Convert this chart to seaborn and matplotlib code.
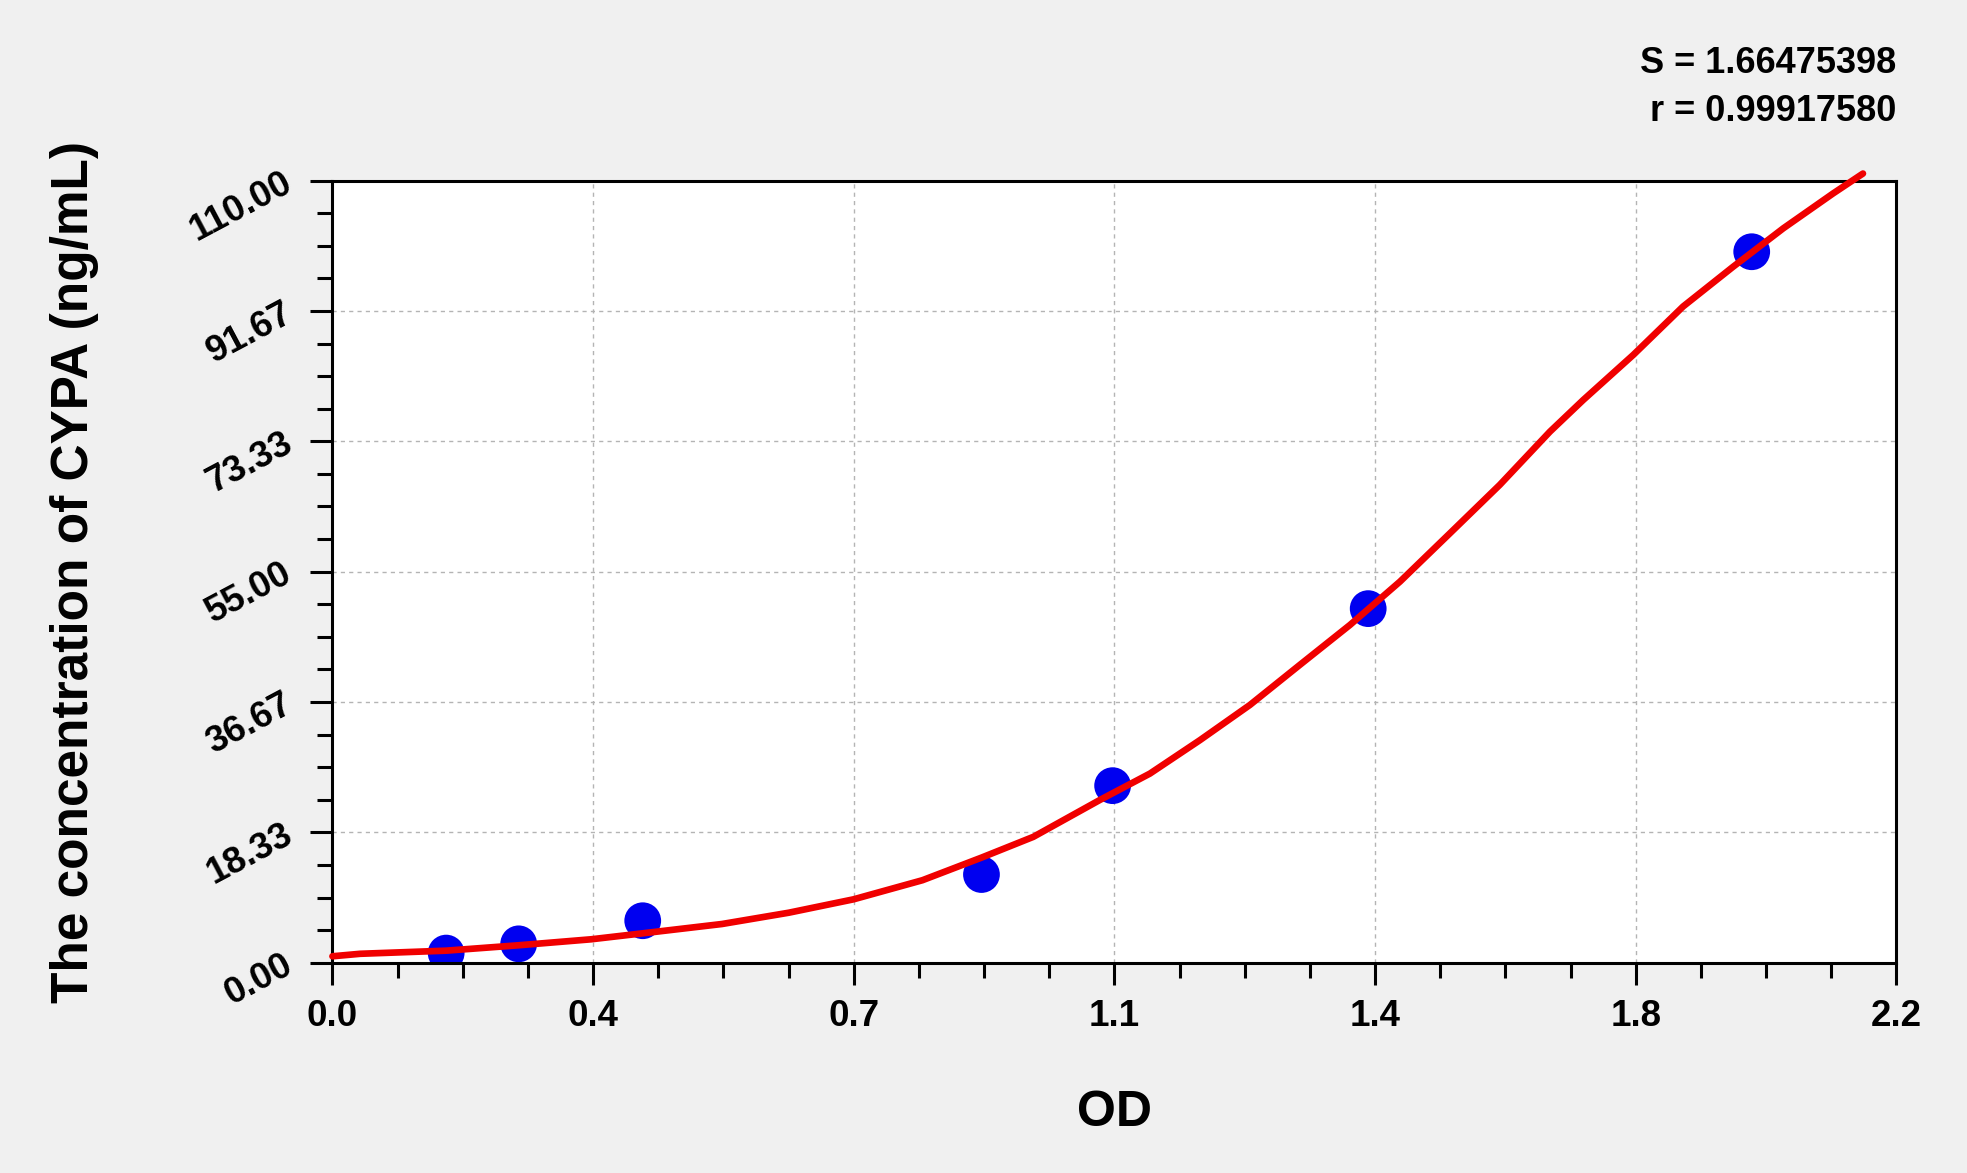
import matplotlib
matplotlib.use("Agg")
import matplotlib.pyplot as plt
from matplotlib.ticker import AutoMinorLocator
import seaborn as sns

# standard points (OD vs concentration)
std_od = [0.160, 0.262, 0.4365, 0.913, 1.0975, 1.457, 1.9965]
std_conc = [1.35, 2.65, 5.9, 12.4, 24.9, 49.8, 100.0]

# fitted curve
curve_od = [0.0, 0.039, 0.160, 0.262, 0.364, 0.4365, 0.548, 0.642, 0.733, 0.830,
            0.9136, 0.986, 1.0798, 1.150, 1.2203, 1.2906, 1.361, 1.4313, 1.5017,
            1.572, 1.642, 1.7127, 1.7595, 1.830, 1.900, 1.9705, 2.041, 2.111, 2.153]
curve_conc = [0.9, 1.25, 1.69, 2.45, 3.29, 4.13, 5.44, 7.03, 8.91, 11.6,
              14.8, 17.7, 22.9, 26.6, 31.3, 36.25, 41.9, 47.5, 53.6,
              60.4, 67.2, 74.7, 79.15, 85.5, 92.3, 97.9, 103.3, 108.2, 111.0]

x_tick_labels = ["0.0", "0.4", "0.7", "1.1", "1.4", "1.8", "2.2"]
y_tick_labels = ["0.00", "18.33", "36.67", "55.00", "73.33", "91.67", "110.00"]
x_max = 2.2
y_max = 110.0

fit_s = "S = 1.66475398"
fit_r = "r = 0.99917580"

sns.set_style("white")
plt.rcParams['font.family'] = ['Liberation Sans', 'DejaVu Sans']
plt.rcParams['font.weight'] = 'bold'
plt.rcParams['text.color'] = 'black'
plt.rcParams['axes.labelcolor'] = 'black'
plt.rcParams['xtick.color'] = 'black'
plt.rcParams['ytick.color'] = 'black'

fig = plt.figure(figsize=(19.67, 11.73), dpi=100, facecolor='#f0f0f0')
ax = fig.add_axes([0.1690, 0.1793, 0.7951, 0.6667])
ax.set_facecolor('white')

sns.scatterplot(x=std_od, y=std_conc, s=700, color='#0000f0', edgecolor='none',
                ax=ax, zorder=2, legend=False)
sns.lineplot(x=curve_od, y=curve_conc, color='#f00000', linewidth=4.8, sort=False,
             estimator=None, ax=ax, zorder=3, clip_on=False, legend=False)

ax.set_xlim(0, x_max)
ax.set_ylim(0, y_max)
n = len(x_tick_labels) - 1
ax.set_xticks([x_max * i / n for i in range(n + 1)])
ax.set_xticklabels(x_tick_labels, fontsize=26.5, fontweight='bold')
m = len(y_tick_labels) - 1
ax.set_yticks([y_max * i / m for i in range(m + 1)])
ax.set_yticklabels(y_tick_labels, fontsize=26.5, fontweight='bold', rotation=28,
                   ha='right', va='center', rotation_mode='anchor')
ax.xaxis.set_minor_locator(AutoMinorLocator(4))
ax.yaxis.set_minor_locator(AutoMinorLocator(4))

ax.tick_params(which='both', bottom=True, left=True, top=False, right=False)
ax.tick_params(which='major', direction='out', length=15.5, width=2.2, color='black')
ax.tick_params(which='minor', direction='out', length=11, width=2.2, color='black')
ax.tick_params(axis='x', which='major', pad=11)
ax.tick_params(axis='y', which='major', pad=15)

for sp in ax.spines.values():
    sp.set_visible(True)
    sp.set_linewidth(2.2)
    sp.set_color('black')

ax.grid(True, which='major', linestyle=(0, (3, 3)), color='#b4b4b4', linewidth=1.0)
ax.set_axisbelow(True)

ax.set_xlabel("OD", fontsize=36, fontweight='bold', va='center')
ax.xaxis.set_label_coords(0.5, -0.192)
ax.set_ylabel("The concentration of CYPA (ng/mL)", fontsize=37, fontweight='bold',
              va='center')
ax.yaxis.set_label_coords(-0.1646, 0.5)

fig.text(0.964, 0.946, fit_s, ha='right', va='center', fontsize=26, fontweight='bold')
fig.text(0.964, 0.9048, fit_r, ha='right', va='center', fontsize=26, fontweight='bold')

fig.savefig("out.png", dpi=100, facecolor=fig.get_facecolor())
